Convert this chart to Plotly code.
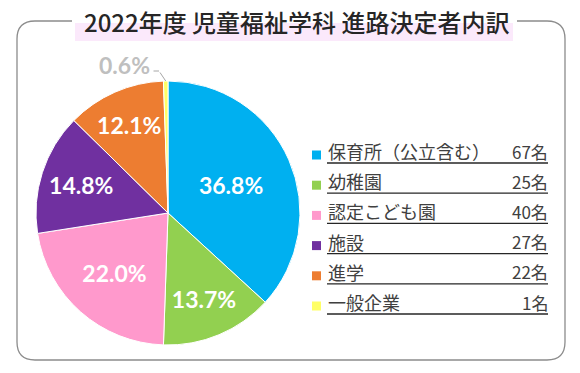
import math
import plotly.graph_objects as go

# ---- data ----
categories = ["保育所（公立含む）", "幼稚園", "認定こども園", "施設", "進学", "一般企業"]
counts = [67, 25, 40, 27, 22, 1]
pct_labels = ["36.8%", "13.7%", "22.0%", "14.8%", "12.1%", "0.6%"]
colors = ["#00b0f0", "#92d050", "#ff99cc", "#7030a0", "#ed7d31", "#ffff66"]
title_text = "2022年度 児童福祉学科 進路決定者内訳"

W, H = 580, 373
def px(x):
    return x / W
def py(y):
    return 1 - y / H

# pie geometry (pixels)
cx, cy, r = 168, 213, 132

total = sum(counts)
textpos = ["inside"] * (len(counts) - 1) + ["none"]

fig = go.Figure()
fig.add_trace(go.Pie(
    labels=categories, values=counts, sort=False, direction="clockwise", rotation=0,
    marker=dict(colors=colors, line=dict(color="white", width=1)),
    customdata=pct_labels, texttemplate="%{customdata}", textposition=textpos,
    insidetextorientation="horizontal",
    textfont=dict(family="Lato", size=23, color="white", weight="bold"),
    domain=dict(x=[px(cx - r), px(cx + r)], y=[py(cy + r), py(cy - r)]),
    showlegend=False, hoverinfo="label+value+percent",
))

shapes = []
annotations = []

# rounded frame with gap for title
L, T, R, B, rr = 17, 21, 565, 360, 18
gl, gr = 72, 517
path = (f"M {px(gl)},{py(T)} L {px(L+rr)},{py(T)} Q {px(L)},{py(T)} {px(L)},{py(T+rr)} "
        f"L {px(L)},{py(B-rr)} Q {px(L)},{py(B)} {px(L+rr)},{py(B)} "
        f"L {px(R-rr)},{py(B)} Q {px(R)},{py(B)} {px(R)},{py(B-rr)} "
        f"L {px(R)},{py(T+rr)} Q {px(R)},{py(T)} {px(R-rr)},{py(T)} L {px(gr)},{py(T)}")
shapes.append(dict(type="path", path=path, xref="paper", yref="paper",
                   line=dict(color="#8c8c8c", width=1.3), layer="below"))

# pink highlight band under title
shapes.append(dict(type="rect", xref="paper", yref="paper", x0=px(75), x1=px(513),
                   y0=py(41), y1=py(23), fillcolor="#fbe9fb", line=dict(width=0), layer="below"))
annotations.append(dict(text=title_text, x=px(82), y=py(21), xref="paper", yref="paper",
                        xanchor="left", yanchor="middle", showarrow=False,
                        font=dict(family="Noto Sans CJK JP", size=24, color="#262626", weight=500)))

# small slice label with leader line
last = len(counts) - 1
start = sum(counts[:last])
mid_angle = 2 * math.pi * (start + counts[last] / 2) / total
tip_x = cx + r * math.sin(mid_angle)
tip_y = cy - r * math.cos(mid_angle)
lab_x, lab_y = 152, 71
annotations.append(dict(text="", x=px(tip_x), y=py(tip_y), xref="paper", yref="paper",
                        ax=lab_x + 7 - tip_x, ay=lab_y - tip_y,
                        showarrow=True, arrowhead=0, arrowcolor="#a6a6a6", arrowwidth=1,
                        standoff=0, startstandoff=0))
annotations.append(dict(text="", x=px(lab_x + 7), y=py(lab_y), xref="paper", yref="paper",
                        ax=-7, ay=0, showarrow=True, arrowhead=0, arrowcolor="#a6a6a6",
                        arrowwidth=1, standoff=0, startstandoff=0))
annotations.append(dict(text=pct_labels[last], x=px(lab_x), y=py(lab_y - 6), xref="paper", yref="paper",
                        xanchor="right", yanchor="middle", showarrow=False,
                        font=dict(family="Lato", size=23, color="#bfbfbf", weight="bold")))

# custom legend
row0, step = 155, 30.2
for i, (cat, n, c) in enumerate(zip(categories, counts, colors)):
    yc = row0 + step * i
    shapes.append(dict(type="rect", xref="paper", yref="paper", x0=px(312), x1=px(321),
                       y0=py(yc + 4.5), y1=py(yc - 4.5), fillcolor=c, line=dict(width=0)))
    annotations.append(dict(text=cat, x=px(326), y=py(yc - 4), xref="paper", yref="paper",
                            xanchor="left", yanchor="middle", showarrow=False,
                            font=dict(family="Noto Sans CJK JP", size=18, color="#404040")))
    annotations.append(dict(text=f"{n}名", x=px(550), y=py(yc - 4), xref="paper", yref="paper",
                            xanchor="right", yanchor="middle", showarrow=False,
                            font=dict(family="Noto Sans CJK JP", size=17, color="#404040")))
    shapes.append(dict(type="line", xref="paper", yref="paper", x0=px(327), x1=px(548),
                       y0=py(yc + 8), y1=py(yc + 8), line=dict(color="#262626", width=1.3)))

fig.update_layout(width=W, height=H, margin=dict(l=0, r=0, t=0, b=0),
                  paper_bgcolor="white", plot_bgcolor="white",
                  shapes=shapes, annotations=annotations)
fig.write_html("out.html", config={"displayModeBar": False},
               post_script="document.body.style.margin='0';")
